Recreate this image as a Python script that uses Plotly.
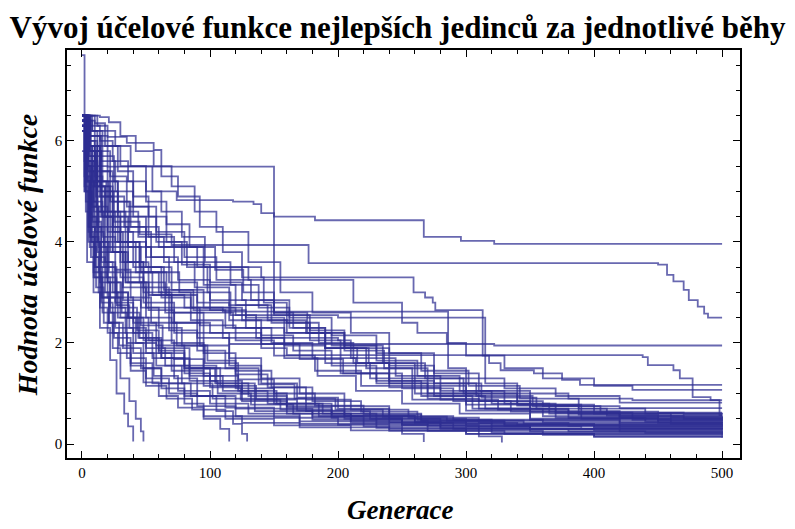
import plotly.graph_objects as go

# ---- data: breakpoints [generation, best objective value] of each run (step function) ----
run_01 = [[0,7.7],[2,6.4],[4,5.2],[6,4.1],[10,3.3],[16,2.6],[25,2.1],[38,1.6],[55,1.2],[80,0.95],[120,0.7],[180,0.55],[260,0.42],[340,0.38],[500,0.36]]
run_02 = [[0,6.5],[2,5.0],[4,3.6],[9,3.0],[14,2.3],[22,1.66],[27,1.0],[33,0.6],[36,0.35],[40,0.05]]
run_03 = [[0,6.4],[3,4.8],[6,3.9],[11,3.1],[17,2.4],[24,1.9],[30,1.3],[37,0.85],[42,0.5],[46,0.25],[48,0.05]]
run_04 = [[0,6.5],[3,5.2],[7,4.0],[14,3.2],[22,2.6],[35,2.0],[48,1.5],[62,1.1],[80,0.8],[95,0.5],[108,0.3],[115,0.05]]
run_05 = [[0,6.3],[4,5.5],[8,4.4],[15,3.5],[26,2.8],[40,2.2],[55,1.7],[72,1.3],[90,0.95],[105,0.65],[118,0.4],[125,0.2],[129,0.05]]
run_06 = [[0,6.5],[5,5.6],[12,4.6],[20,3.8],[32,3.1],[50,2.5],[70,2.0],[95,1.5],[120,1.1],[150,0.8],[185,0.55],[220,0.35],[250,0.2],[267,0.04]]
run_07 = [[0,6.4],[6,5.8],[15,5.0],[28,4.0],[45,3.2],[65,2.6],[90,2.1],[115,1.7],[140,1.3],[170,1.0],[205,0.75],[240,0.5],[280,0.3],[310,0.15],[328,0.03]]
run_08 = [[0,6.5],[10,6.1],[20,5.49],[149,5.49],[150,2.6],[165,2.3],[190,1.9],[215,1.6],[240,1.2],[270,0.9],[310,0.7],[380,0.6],[500,0.58]]
run_09 = [[0,6.5],[8,6.2],[18,5.9],[30,5.5],[55,5.0],[74,4.83],[118,4.8],[134,4.75],[140,4.57],[150,4.5],[182,4.43],[267,4.1],[296,4.02],[322,3.96],[500,3.96]]
run_10 = [[0,6.2],[5,5.6],[12,5.0],[25,4.4],[45,4.15],[70,3.94],[177,3.58],[450,3.55],[457,3.35],[462,3.22],[470,3.05],[474,2.85],[481,2.72],[486,2.58],[489,2.5],[500,2.5]]
run_11 = [[0,6.4],[4,5.9],[10,5.1],[18,4.3],[30,3.6],[48,3.0],[70,2.6],[95,2.2],[115,1.98],[320,1.98],[322,1.95],[500,1.95]]
run_12 = [[0,6.5],[6,5.7],[14,4.9],[24,4.2],[40,3.5],[62,2.9],[85,2.45],[110,2.1],[140,1.9],[160,1.76],[438,1.72],[442,1.56],[462,1.46],[467,1.3],[477,0.93],[491,0.87],[498,0.57],[500,0.57]]
run_13 = [[0,6.5],[5,6.0],[12,5.4],[22,4.8],[38,4.3],[60,3.9],[95,3.5],[140,3.3],[256,3.3],[259,3.0],[268,2.9],[274,2.8],[276,2.65],[311,2.65],[313,1.75],[318,1.6],[327,1.46],[353,1.4],[375,1.27],[389,1.17],[500,1.17]]
run_14 = [[0,6.4],[6,5.8],[15,5.2],[28,4.5],[50,3.9],[90,3.5],[130,3.25],[209,3.25],[212,2.8],[246,2.8],[250,2.4],[262,2.2],[285,2.0],[300,1.75],[330,1.5],[360,1.3],[400,1.15],[430,1.07],[500,1.07]]
run_16 = [[0,6.5],[3,5.9],[8,5.2],[15,4.6],[26,4.0],[42,3.4],[60,3.0],[85,2.7],[110,2.62],[284,2.62],[286,1.5],[300,1.3],[330,1.1],[370,0.95],[420,0.82],[500,0.82]]
run_17 = [[0,6.3],[5,5.5],[11,4.7],[20,4.0],[34,3.4],[55,2.95],[80,2.7],[120,2.55],[200,2.5],[313,2.5],[315,1.2],[340,1.0],[380,0.9],[430,0.87],[500,0.87]]
run_18 = [[0,6.5],[4,5.4],[9,4.6],[17,3.9],[30,3.3],[48,2.8],[72,2.4],[100,2.2],[140,2.1],[200,2.05],[202,1.4],[230,1.2],[270,1.0],[310,0.85],[360,0.75],[420,0.71],[500,0.71]]
run_19 = [[0,6.4],[2,5.1],[5,4.2],[9,3.4],[15,2.8],[24,2.2],[35,1.7],[50,1.3],[68,1.0],[90,0.75],[120,0.55],[170,0.4],[240,0.3],[320,0.22],[500,0.2]]
run_20 = [[0,6.5],[3,5.5],[6,4.5],[11,3.7],[18,3.0],[28,2.5],[42,2.0],[58,1.55],[78,1.2],[102,0.9],[135,0.65],[180,0.48],[250,0.36],[350,0.3],[500,0.28]]
run_21 = [[0,6.3],[2,5.3],[5,4.3],[10,3.5],[16,2.9],[26,2.3],[40,1.8],[56,1.35],[75,1.05],[100,0.8],[130,0.6],[170,0.45],[230,0.32],[300,0.2],[400,0.14],[500,0.12]]
run_22 = [[0,6.5],[4,5.0],[8,4.0],[14,3.3],[22,2.7],[34,2.2],[50,1.8],[70,1.45],[95,1.15],[125,0.85],[160,0.6],[210,0.42],[290,0.3],[380,0.25],[500,0.23]]
run_23 = [[0,5.8],[3,4.6],[7,3.7],[13,3.0],[21,2.4],[32,1.9],[46,1.5],[62,1.2],[85,0.95],[112,0.72],[150,0.52],[200,0.38],[270,0.26],[360,0.18],[500,0.16]]
run_24 = [[0,6.4],[5,5.2],[10,4.2],[17,3.5],[27,2.9],[40,2.4],[58,1.95],[80,1.55],[105,1.2],[135,0.9],[175,0.65],[225,0.5],[300,0.4],[400,0.34],[500,0.32]]
run_25 = [[0,6.5],[2,5.6],[6,4.8],[12,4.0],[20,3.2],[31,2.6],[45,2.1],[62,1.7],[84,1.35],[110,1.05],[145,0.8],[195,0.6],[265,0.46],[345,0.4],[500,0.38]]
run_26 = [[0,6.2],[3,5.0],[7,4.1],[13,3.4],[20,2.9],[30,2.5],[44,2.1],[60,1.8],[80,1.5],[100,1.25],[125,1.0],[160,0.75],[205,0.56],[260,0.44],[330,0.36],[420,0.3],[500,0.3]]
run_27 = [[0,6.5],[6,5.9],[14,5.1],[24,4.3],[36,3.6],[52,2.95],[70,2.4],[92,1.95],[115,1.55],[140,1.2],[168,0.92],[200,0.7],[240,0.55],[290,0.48],[360,0.46],[500,0.45]]
run_28 = [[0,6.4],[5,5.8],[12,5.1],[22,4.5],[36,3.9],[54,3.4],[76,3.0],[100,2.65],[128,2.3],[158,1.95],[190,1.6],[225,1.3],[260,1.0],[300,0.78],[350,0.62],[420,0.52],[500,0.5]]
run_29 = [[0,6.5],[4,6.1],[10,5.5],[20,4.9],[33,4.3],[50,3.7],[68,3.2],[90,2.8],[115,2.45],[140,2.15],[165,1.85],[195,1.55],[230,1.25],[265,0.95],[305,0.7],[360,0.55],[430,0.48],[500,0.47]]
run_30 = [[0,6.3],[5,5.4],[12,4.5],[22,3.8],[34,3.2],[50,2.7],[68,2.25],[90,1.85],[112,1.5],[138,1.18],[166,0.9],[198,0.68],[235,0.54],[285,0.46],[360,0.43],[500,0.42]]
run_31 = [[0,6.5],[5,5.9],[12,5.2],[21,4.6],[34,4.0],[50,3.5],[70,3.05],[95,2.7],[125,2.45],[160,2.2],[195,1.95],[230,1.65],[262,1.35],[295,1.05],[330,0.8],[370,0.62],[430,0.55],[500,0.55]]
run_32 = [[0,6.4],[4,5.6],[9,4.8],[16,4.1],[26,3.45],[38,2.9],[54,2.4],[74,1.95],[96,1.6],[122,1.28],[150,1.0],[182,0.76],[220,0.58],[265,0.46],[330,0.38],[420,0.35],[500,0.34]]
run_33 = [[0,6.5],[6,6.1],[15,5.6],[26,5.0],[40,4.5],[58,4.0],[78,3.55],[100,3.2],[125,2.85],[150,2.55],[178,2.25],[205,1.95],[235,1.6],[268,1.3],[300,1.0],[340,0.78],[390,0.64],[450,0.62],[500,0.62]]
run_34 = [[0,6.3],[3,5.5],[7,4.7],[13,4.0],[21,3.4],[32,2.85],[46,2.35],[63,1.9],[84,1.5],[108,1.15],[136,0.88],[168,0.66],[205,0.5],[250,0.38],[310,0.3],[400,0.27],[500,0.26]]
run_35 = [[0,6.5],[5,6.2],[12,5.8],[22,5.3],[35,4.7],[52,4.1],[72,3.6],[95,3.15],[120,2.75],[148,2.4],[178,2.05],[210,1.7],[245,1.35],[280,1.05],[320,0.8],[365,0.6],[420,0.5],[500,0.52]]
run_36 = [[0,6.4],[4,5.8],[10,5.1],[18,4.5],[30,3.9],[46,3.4],[66,2.95],[90,2.6],[118,2.3],[148,2.0],[180,1.7],[214,1.4],[250,1.1],[290,0.85],[335,0.64],[390,0.5],[460,0.4],[500,0.4]]
run_37 = [[0,6.5],[7,5.9],[16,5.2],[28,4.6],[44,4.1],[64,3.6],[88,3.1],[115,2.75],[145,2.45],[175,2.2],[205,1.9],[240,1.55],[275,1.2],[312,0.92],[355,0.7],[410,0.56],[470,0.5],[500,0.5]]
run_38 = [[0,6.2],[3,5.3],[7,4.5],[12,3.8],[20,3.2],[30,2.7],[43,2.25],[60,1.85],[80,1.5],[104,1.2],[130,0.95],[160,0.72],[195,0.55],[240,0.42],[300,0.34],[390,0.31],[500,0.3]]
run_39 = [[0,6.5],[5,5.7],[11,4.9],[20,4.2],[32,3.6],[48,3.1],[68,2.7],[92,2.35],[120,2.05],[150,1.75],[182,1.45],[218,1.15],[258,0.88],[300,0.66],[350,0.5],[420,0.38],[500,0.36]]
run_40 = [[0,6.4],[6,5.9],[14,5.4],[24,4.8],[37,4.2],[54,3.7],[75,3.25],[100,2.85],[128,2.5],[158,2.2],[190,1.9],[224,1.6],[260,1.3],[298,1.0],[340,0.76],[388,0.58],[450,0.47],[500,0.45]]
run_41 = [[0,6.5],[4,5.2],[9,4.3],[15,3.6],[24,3.0],[36,2.5],[52,2.05],[72,1.68],[95,1.35],[122,1.05],[152,0.8],[188,0.6],[230,0.44],[280,0.33],[350,0.25],[440,0.22],[500,0.21]]
run_42 = [[0,6.3],[5,5.8],[11,5.2],[19,4.6],[30,4.0],[45,3.5],[64,3.05],[87,2.65],[112,2.3],[140,1.98],[170,1.68],[204,1.4],[240,1.12],[280,0.88],[325,0.68],[380,0.52],[450,0.42],[500,0.4]]
run_43 = [[0,6.5],[3,5.9],[8,5.2],[15,4.5],[24,3.8],[36,3.2],[52,2.65],[72,2.2],[95,1.8],[120,1.45],[148,1.12],[180,0.85],[218,0.64],[262,0.48],[320,0.38],[400,0.32],[500,0.3]]
run_44 = [[0,6.4],[6,6.1],[14,5.7],[25,5.2],[40,4.7],[58,4.2],[80,3.7],[105,3.25],[132,2.85],[162,2.5],[195,2.15],[230,1.8],[265,1.45],[302,1.15],[342,0.9],[388,0.7],[440,0.6],[500,0.6]]
run_45 = [[0,6.5],[14,6.47],[21,6.37],[30,6.1],[42,5.8],[56,5.5],[70,5.1],[88,4.6],[105,4.2],[130,3.6],[155,3.0],[180,2.6],[210,2.2],[240,1.8],[275,1.4],[310,1.05],[350,0.78],[400,0.6],[460,0.52],[500,0.5]]
run_46 = [[0,6.5],[12,6.3],[20,6.08],[35,5.96],[56,5.82],[62,5.3],[75,4.9],[92,4.3],[110,3.8],[125,3.3],[142,2.8],[160,2.4],[185,2.0],[212,1.6],[240,1.25],[275,0.95],[315,0.7],[370,0.52],[440,0.44],[500,0.43]]
run_47 = [[0,6.4],[8,6.2],[16,5.9],[28,5.4],[40,4.9],[52,4.5],[66,4.0],[82,3.5],[98,3.0],[116,2.55],[136,2.1],[158,1.7],[184,1.35],[214,1.05],[250,0.8],[295,0.6],[350,0.48],[420,0.42],[500,0.4]]
run_48 = [[0,6.5],[5,6.0],[10,5.3],[16,4.5],[24,3.8],[34,3.2],[46,2.7],[60,2.3],[78,1.95],[98,1.65],[120,1.38],[145,1.12],[175,0.88],[210,0.68],[255,0.52],[310,0.42],[380,0.36],[500,0.34]]
run_49 = [[0,6.3],[3,5.2],[6,4.3],[10,3.5],[15,2.9],[21,2.4],[29,1.95],[38,1.55],[48,1.22],[60,0.95],[75,0.72],[95,0.55],[125,0.42],[170,0.33],[240,0.26],[330,0.2],[500,0.18]]
run_50 = [[0,6.5],[4,5.6],[8,4.7],[13,3.9],[19,3.3],[27,2.75],[37,2.3],[50,1.9],[65,1.55],[84,1.25],[106,1.0],[132,0.78],[165,0.6],[210,0.46],[270,0.36],[350,0.3],[500,0.27]]
run_51 = [[0,6.4],[10,6.35],[18,6.2],[26,5.9],[38,5.5],[50,5.0],[62,4.6],[78,4.1],[96,3.6],[116,3.15],[138,2.7],[162,2.3],[190,1.9],[222,1.5],[258,1.15],[300,0.85],[350,0.65],[420,0.55],[500,0.53]]
run_52 = [[0,6.5],[3,5.9],[7,5.1],[12,4.3],[18,3.6],[26,3.0],[36,2.5],[48,2.05],[62,1.7],[80,1.4],[100,1.12],[124,0.88],[155,0.68],[195,0.52],[250,0.4],[320,0.3],[420,0.25],[500,0.24]]
run_53 = [[0,6.2],[2,5.0],[5,4.0],[9,3.3],[14,2.7],[20,2.2],[28,1.8],[38,1.45],[50,1.15],[66,0.9],[86,0.68],[112,0.5],[150,0.37],[210,0.27],[300,0.2],[400,0.15],[500,0.14]]
run_54 = [[0,6.5],[6,6.3],[14,6.0],[24,5.6],[36,5.2],[50,4.8],[66,4.35],[84,3.9],[104,3.45],[126,3.0],[150,2.6],[176,2.2],[205,1.85],[236,1.5],[270,1.2],[308,0.95],[352,0.75],[405,0.62],[470,0.58],[500,0.58]]

runs = [run_01, run_02, run_03, run_04, run_05, run_06, run_07, run_08, run_09, run_10,
        run_11, run_12, run_13, run_14, run_16, run_17, run_18, run_19, run_20, run_21,
        run_22, run_23, run_24, run_25, run_26, run_27, run_28, run_29, run_30, run_31,
        run_32, run_33, run_34, run_35, run_36, run_37, run_38, run_39, run_40, run_41,
        run_42, run_43, run_44, run_45, run_46, run_47, run_48, run_49, run_50, run_51,
        run_52, run_53, run_54]

title_text = "Vývoj účelové funkce nejlepších jedinců za jednotlivé běhy"
x_title = "Generace"
y_title = "Hodnota účelové funkce"
x_ticks = [0, 100, 200, 300, 400, 500]
y_ticks = [0, 2, 4, 6]

LINE = "rgba(46,46,145,0.72)"
SERIF = "Liberation Serif"

fig = go.Figure()
for r in runs:
    fig.add_trace(go.Scatter(
        x=[p[0] for p in r], y=[p[1] for p in r],
        mode="lines", line=dict(color=LINE, width=1.8, shape="hv"),
        showlegend=False, hoverinfo="skip"))

axis_common = dict(
    showline=True, linecolor="black", linewidth=1.6, mirror="ticks",
    ticks="inside", ticklen=7, tickwidth=1.4, tickcolor="black",
    showgrid=False, zeroline=False,
    tickfont=dict(family=SERIF, size=15, color="black"),
)

fig.update_xaxes(range=[-11.7, 514], tickvals=x_ticks,
                 minor=dict(ticks="inside", ticklen=4, tickwidth=1.2, tickcolor="black", dtick=20, tick0=0, showgrid=False),
                 **axis_common)
fig.update_yaxes(range=[-0.277, 7.80], tickvals=y_ticks,
                 minor=dict(ticks="inside", ticklen=4, tickwidth=1.2, tickcolor="black", dtick=0.5, tick0=0, showgrid=False),
                 **axis_common)

fig.update_layout(
    width=795, height=529,
    margin=dict(l=67, r=55, t=50, b=71),
    paper_bgcolor="white", plot_bgcolor="white",
    title=dict(text=title_text, x=0.5, xanchor="center", y=1 - 27/529, yanchor="middle",
               font=dict(family=SERIF, size=31, color="black", weight="bold")),
    annotations=[
        dict(text=x_title, xref="paper", yref="paper", x=0.495, y=-0.127,
             xanchor="center", yanchor="middle", showarrow=False,
             font=dict(family=SERIF, size=27, color="black", weight="bold", style="italic")),
        dict(text=y_title, xref="paper", yref="paper", x=-0.0594, y=0.497,
             xanchor="center", yanchor="middle", showarrow=False, textangle=-90,
             font=dict(family=SERIF, size=28, color="black", weight="bold", style="italic")),
    ],
)

fig.write_html("out.html")
